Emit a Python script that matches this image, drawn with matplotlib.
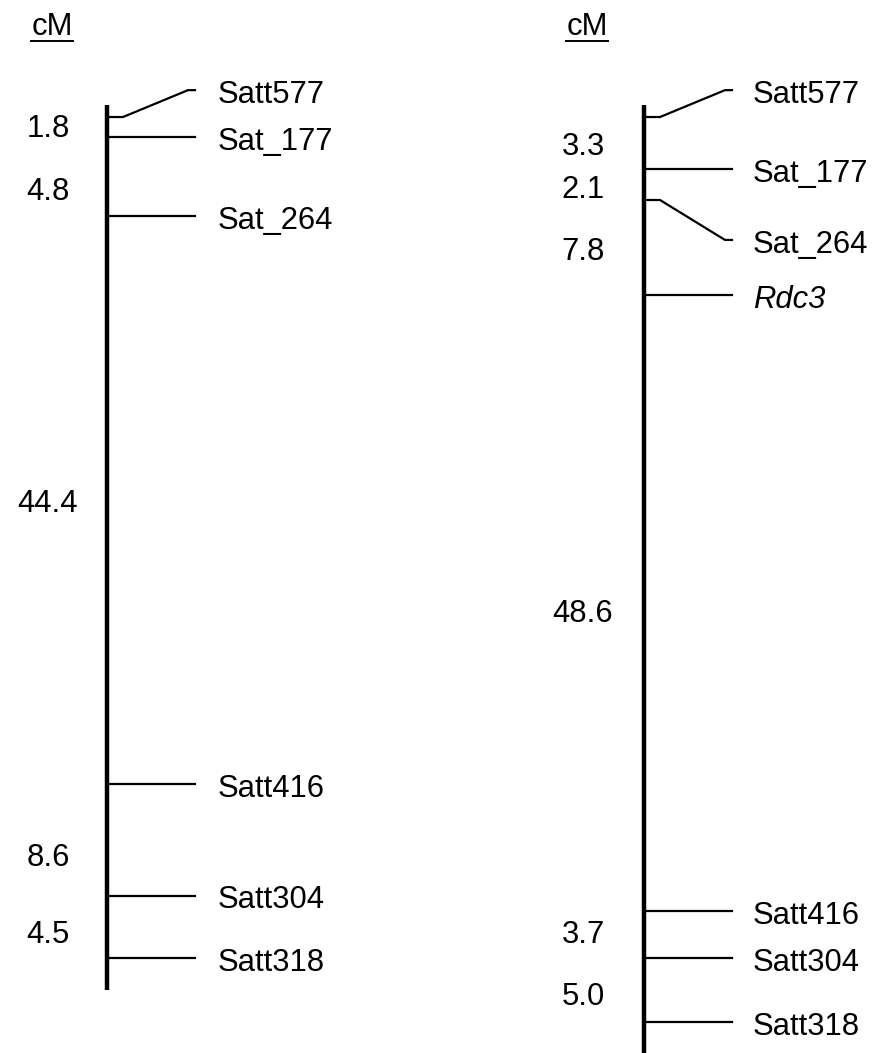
import matplotlib
matplotlib.use("Agg")
import matplotlib.pyplot as plt

plt.rcParams['font.family'] = ['Liberation Sans', 'DejaVu Sans']

# ---- data ----
left_markers = ["Satt577", "Sat_177", "Sat_264", "Satt416", "Satt304", "Satt318"]
left_pos = [0.0, 1.56, 7.73, 52.1, 60.8, 65.7]          # drawn map position (cM)
left_label_pos = [-2.1, 1.56, 7.73, 52.1, 60.8, 65.7]   # where label text sits
left_intervals = ["1.8", "4.8", "44.4", "8.6", "4.5"]
left_interval_y = [0.78, 5.7, 30.1, 57.7, 63.7]
left_bar = (-0.94, 68.2)

right_markers = ["Satt577", "Sat_177", "Sat_264", "Rdc3", "Satt416", "Satt304", "Satt318"]
right_pos = [0.0, 4.06, 6.48, 13.9, 62.0, 65.7, 70.7]
right_label_pos = [-2.1, 4.06, 9.6, 13.9, 62.0, 65.7, 70.7]
right_intervals = ["3.3", "2.1", "7.8", "48.6", "3.7", "5.0"]
right_interval_y = [2.19, 5.55, 10.4, 38.7, 63.75, 68.6]
right_bar = (-0.94, 73.5)
italic_markers = {"Rdc3"}

# ---- figure ----
fig = plt.figure(figsize=(8.76, 10.53), dpi=100)
ax = fig.add_axes([0, 0, 1, 1])
ax.set_xlim(0, 876)
ax.set_ylim(73.1, -9.14)
ax.axis('off')

FS = 22.3
LAB_OFF = 0.38   # text sits slightly below its line
INT_OFF = 0.15

def draw_chrom(x0, xint, xlab, markers, pos, lpos, intervals, iy, bar):
    ax.plot([x0, x0], bar, color='black', lw=3.2, solid_capstyle='butt')
    tick_end = x0 + 88
    for name, p, lp in zip(markers, pos, lpos):
        if abs(p - lp) < 1e-6:
            ax.plot([x0, tick_end], [p, p], color='black', lw=1.6)
        else:
            ax.plot([x0, x0 + 16, tick_end - 7, tick_end], [p, p, lp, lp],
                    color='black', lw=1.6)
        ax.text(xlab, lp + LAB_OFF, name, fontsize=FS, va='center', ha='left',
                style='italic' if name in italic_markers else 'normal')
    for t, y in zip(intervals, iy):
        ax.text(xint, y + INT_OFF, t, fontsize=FS, va='center', ha='center')
    # cM header
    ax.text(xint + 4, -7.05, "cM", fontsize=FS, va='center', ha='center')
    ax.plot([xint - 17, xint + 25], [-5.95, -5.95], color='black', lw=1.4)

draw_chrom(107, 48, 218, left_markers, left_pos, left_label_pos,
           left_intervals, left_interval_y, left_bar)
draw_chrom(644, 583, 753, right_markers, right_pos, right_label_pos,
           right_intervals, right_interval_y, right_bar)

fig.savefig("out.png", dpi=100)
